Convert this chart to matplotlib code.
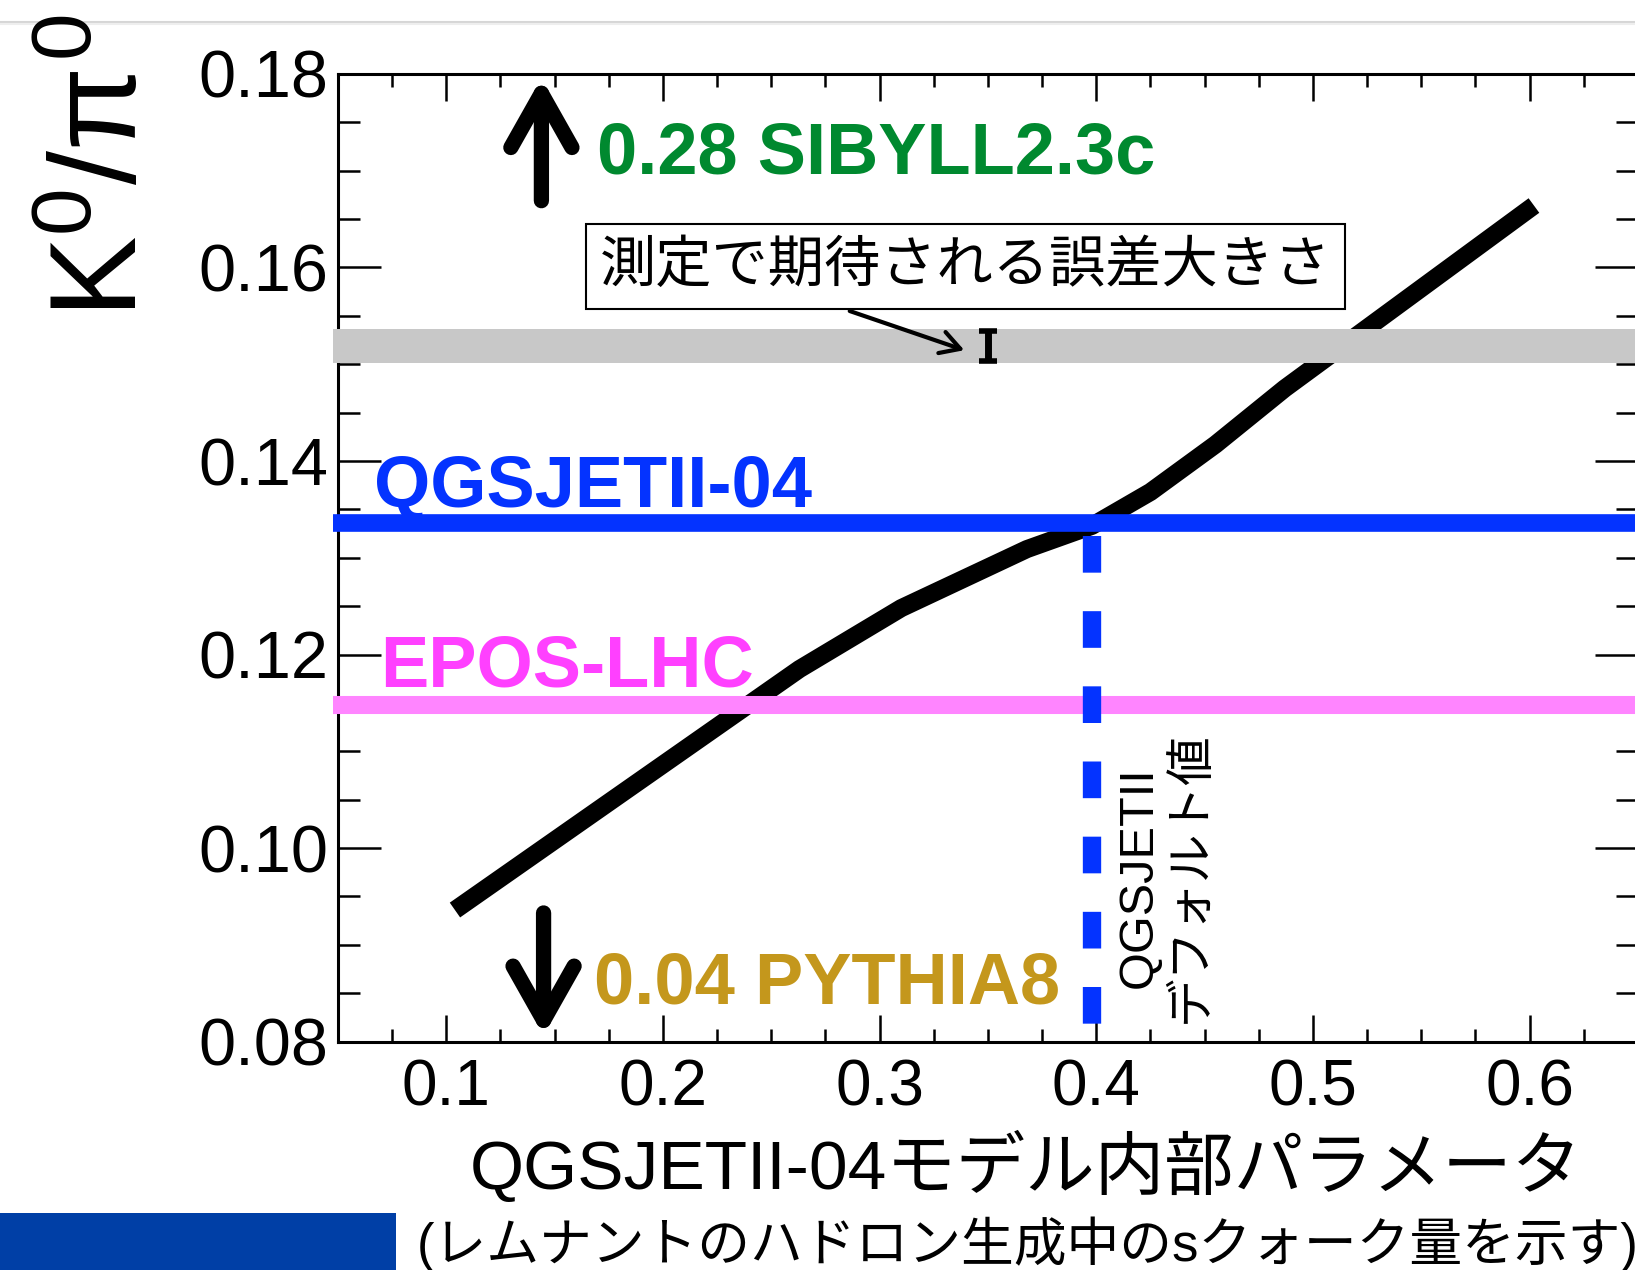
import matplotlib
matplotlib.use("Agg")
from matplotlib import pyplot as plt
from matplotlib.ticker import MultipleLocator
from matplotlib.patches import Rectangle
from matplotlib.lines import Line2D

plt.rcParams['font.family'] = ['Liberation Sans', 'Noto Sans CJK JP']
plt.rcParams['mathtext.fontset'] = 'custom'
plt.rcParams['mathtext.rm'] = 'Liberation Sans'
plt.rcParams['mathtext.it'] = 'Liberation Sans'

# K0/pi0 vs QGSJETII-04 internal parameter
param = [0.104, 0.263, 0.310, 0.368, 0.398, 0.425, 0.455, 0.487, 0.602]
ratio = [0.0936, 0.1185, 0.1248, 0.1309, 0.1333, 0.1368, 0.1417, 0.1475, 0.1664]

# other models
qgsjet_ratio = 0.1336
epos_ratio = 0.1148
default_param = 0.398

# expected measurement error
band_center = 0.1519
band_half = 0.00176
err_x = 0.350
err_half = 0.00155

xticks = [0.1, 0.2, 0.3, 0.4, 0.5, 0.6]
yticks = [0.08, 0.10, 0.12, 0.14, 0.16, 0.18]

BLUE = '#0433ff'

fig = plt.figure(figsize=(16.35, 12.70), dpi=100)
ax = fig.add_axes([0.2067, 0.1798, 0.7951, 0.7620])

ax.plot(param, ratio, color='k', lw=13, solid_capstyle='butt',
        solid_joinstyle='round', zorder=2)

x0, x1 = 0.0477, 0.66
ax.fill_between([x0, x1], band_center - band_half, band_center + band_half,
                color='#c8c8c8', lw=0, clip_on=False, zorder=3)
ax.plot([x0, x1], [qgsjet_ratio] * 2, color=BLUE, lw=12.7,
        solid_capstyle='butt', clip_on=False, zorder=3)
ax.plot([x0, x1], [epos_ratio] * 2, color='#ff85ff', lw=13,
        solid_capstyle='butt', clip_on=False, zorder=3)

# default value of QGSJETII
ax.plot([default_param, default_param], [0.1322, 0.0816], color=BLUE, lw=13.2,
        dashes=(2.0, 2.1), dash_capstyle='butt', zorder=4)

ax.errorbar([err_x], [band_center], yerr=[err_half], fmt='none', ecolor='k',
            elinewidth=5, capsize=6.5, capthick=4, zorder=5)

# labels of models
bold = dict(fontsize=52, fontweight='bold', ha='left', va='baseline', zorder=6)
ax.text(0.0668, 0.1352, 'QGSJETII-04', color=BLUE, **bold)
ax.text(0.0693, 0.1167, 'EPOS-LHC', color='#ff40ff', **bold)
ax.text(0.1695, 0.1697, '0.28 SIBYLL2.3c', color='#00892f', **bold)
ax.text(0.1680, 0.0839, '0.04 PYTHIA8', color='#c4971c', **bold)

arrow = dict(arrowstyle='->,head_length=0.39,head_width=0.22', lw=11,
             color='k', shrinkA=0, shrinkB=0, mutation_scale=100)
ax.annotate('', xy=(0.1439, 0.1796), xytext=(0.1439, 0.1669), arrowprops=arrow,
            annotation_clip=False)
ax.annotate('', xy=(0.1449, 0.0806), xytext=(0.1449, 0.0933), arrowprops=arrow,
            annotation_clip=False)

ax.text(0.3396, 0.1601, '測定で期待される誤差大きさ', fontsize=40.5,
        ha='center', va='center', family='Noto Sans CJK JP', zorder=6,
        bbox=dict(boxstyle='square,pad=0.25', fc='white', ec='k', lw=1.5))
ax.annotate('', xy=(0.3391, 0.15145), xytext=(0.2862, 0.1555),
            arrowprops=dict(arrowstyle='->,head_length=0.7,head_width=0.4',
                            lw=3, color='k', shrinkA=0, shrinkB=0,
                            mutation_scale=20))

ax.text(0.4318, 0.0970, 'QGSJETII\nデフォルト値', fontsize=35, rotation=90,
        ha='center', va='center', multialignment='center', zorder=6)

# axes
ax.set_xlim(0.05, 0.65)
ax.set_ylim(0.08, 0.18)
ax.set_xticks(xticks)
ax.set_xticklabels(['%.1f' % v for v in xticks])
ax.set_yticks(yticks)
ax.set_yticklabels(['%.2f' % v for v in yticks])
ax.xaxis.set_minor_locator(MultipleLocator(0.025))
ax.yaxis.set_minor_locator(MultipleLocator(0.005))
ax.tick_params(axis='x', which='major', direction='in', length=19.5, width=1.8,
               top=True, labelsize=46, pad=12)
ax.tick_params(axis='x', which='minor', direction='in', length=9.5, width=1.8,
               top=True)
ax.tick_params(axis='y', which='major', direction='in', length=31, width=1.8,
               right=True, labelsize=48, pad=7)
ax.tick_params(axis='y', which='minor', direction='in', length=16, width=1.8,
               right=True)
for s in ax.spines.values():
    s.set_linewidth(2.2)

fig.text(105 / 1635, 1 - 166 / 1270, r'K$^0$/$\pi^0$', rotation=90,
         fontsize=88, ha='center', va='center')
fig.text(1026 / 1635, 1 - 1167 / 1270, 'QGSJETII-04モデル内部パラメータ',
         fontsize=50, ha='center', va='center')
fig.text(417 / 1635, 1 - 1244 / 1270, '(レムナントのハドロン生成中のsクォーク量を示す)',
         fontsize=38, ha='left', va='center')

# slide decorations
fig.add_artist(Rectangle((0, 0), 396 / 1635, 57 / 1270, transform=fig.transFigure,
                         color='#003fa6', lw=0))
fig.add_artist(Line2D([0, 1], [1 - 22 / 1270] * 2, transform=fig.transFigure,
                      color='#d6d6d6', lw=1.5))
fig.add_artist(Line2D([0, 1], [1 - 24 / 1270] * 2, transform=fig.transFigure,
                      color='#eeeeee', lw=1.5))

fig.savefig('out.png', dpi=100)
